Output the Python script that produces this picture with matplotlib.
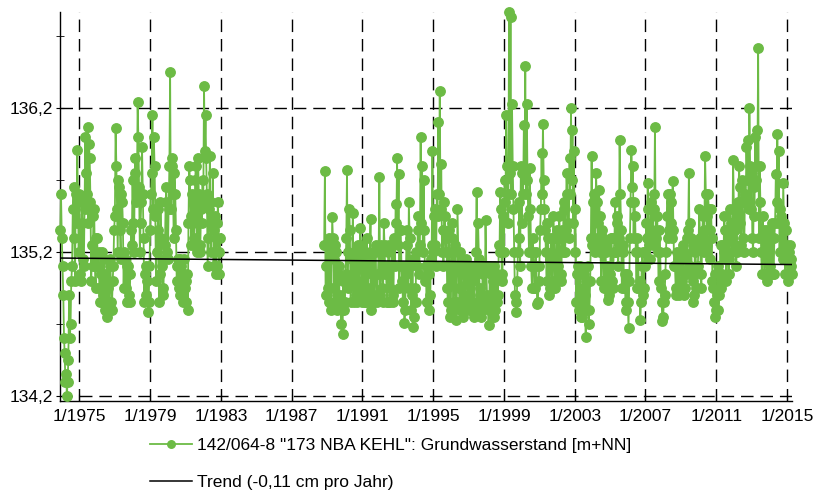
import numpy as np
import pandas as pd
import matplotlib
matplotlib.use('Agg')
from matplotlib import pyplot as plt
import matplotlib.dates as mdates
from matplotlib.ticker import FuncFormatter, FixedLocator

plt.rcParams['font.family'] = ['Liberation Sans', 'DejaVu Sans']

# groundwater levels [m+NN]
# two readings per month: *_early = start of month, *_mid = middle of month
start_1 = '1973-12'
level_1_mid = [135.60,
           135.10, 134.60, 134.30, 134.20, 134.45, 134.60, 135.00, 135.50, 135.30, 135.60, 135.91, 135.20,
           135.05, 135.40, 135.15, 135.50, 135.75, 136.07, 135.95, 135.55, 135.25, 135.45, 135.10, 135.30,
           135.10, 134.95, 135.05, 134.85, 135.15, 134.80, 134.75, 134.95, 135.10, 134.85, 135.00, 135.35,
           136.06, 135.50, 135.70, 135.35, 135.60, 135.40, 135.20, 134.95, 135.10, 134.90, 135.05, 135.25,
           135.40, 135.75, 135.55, 136.24, 135.65, 135.40, 135.93, 135.30, 135.05, 134.90, 134.78, 135.10,
           135.60, 136.15, 136.00, 135.45, 135.20, 135.50, 135.05, 135.30, 134.90, 135.15, 135.55, 135.20,
           135.50, 136.45, 135.85, 135.60, 135.75, 135.35, 135.10, 134.95, 135.15, 134.90, 135.05, 134.95,
           135.00, 134.80, 135.80, 135.45, 135.60, 135.25, 135.70, 135.40, 135.85, 135.20, 135.50, 135.70,
           136.35, 136.15, 135.60, 135.30, 135.87, 135.55, 135.75, 135.35, 135.05, 135.40, 135.20, 135.30]
level_1_early = [135.35,
           135.30, 134.90, 134.50, 134.35, 134.30, 134.90, 134.70, 135.10, 135.65, 135.00, 135.40, 135.55,
           135.60, 135.00, 135.55, 135.10, 136.00, 135.60, 135.40, 135.85, 135.00, 135.10, 135.50, 134.95,
           135.30, 135.20, 134.85, 135.20, 134.90, 135.05, 135.00, 134.80, 134.85, 135.15, 134.80, 135.10,
           135.45, 135.80, 135.20, 135.65, 135.15, 135.55, 134.95, 135.15, 134.85, 135.10, 134.85, 135.35,
           135.70, 135.20, 135.85, 135.60, 136.00, 135.20, 135.55, 135.60, 134.85, 135.10, 135.00, 134.85,
           135.35, 135.75, 135.50, 135.80, 135.00, 135.35, 134.85, 135.55, 135.10, 134.95, 135.25, 135.65,
           135.15, 135.80, 135.50, 135.80, 135.30, 135.60, 135.00, 135.15, 134.90, 135.10, 134.85, 135.15,
           134.85, 135.05, 135.40, 135.70, 135.25, 135.55, 135.30, 135.80, 135.20, 135.60, 135.25, 135.40,
           135.55, 135.90, 135.85, 135.10, 135.50, 135.20, 135.40, 135.10, 135.45, 135.10, 135.55, 135.05]

start_2 = '1988-11'
level_2_mid = [135.76, 135.10,
           134.95, 135.30, 134.80, 135.44, 135.15, 135.25, 134.90, 135.05, 134.85, 134.70, 134.63, 134.80,
           135.05, 135.77, 135.20, 135.35, 135.00, 135.47, 135.15, 134.90, 135.10, 134.95, 135.37, 135.00,
           135.15, 134.85, 135.20, 134.95, 135.10, 135.43, 135.05, 134.85, 135.20, 134.90, 135.05, 135.72,
           135.25, 134.95, 135.40, 135.05, 134.85, 135.20, 134.95, 135.10, 134.90, 135.30, 135.53, 135.85,
           135.74, 135.35, 135.10, 134.85, 134.71, 135.05, 135.25, 135.55, 135.10, 134.90, 134.68, 134.95,
           135.20, 135.35, 135.05, 136.00, 135.80, 135.70, 135.00, 134.85, 135.10, 134.80, 135.15, 135.90,
           135.45, 135.25, 135.60, 136.10, 136.32, 135.81, 135.35, 135.55, 135.20, 134.95, 135.35, 134.75,
           135.40, 134.80, 135.25, 134.73, 135.50, 134.95, 135.20, 134.80, 135.05, 134.85, 135.15, 134.90,
           135.05, 134.80, 135.00, 134.75, 135.10, 135.62, 135.40, 134.95, 134.75, 135.05, 134.85, 135.42,
           134.90, 134.69, 135.10, 134.80, 135.00, 134.75, 135.05, 134.85, 135.25, 135.62, 135.00, 135.45,
           135.70, 136.15, 135.60, 136.87, 136.83, 136.23, 135.50, 134.90, 134.78, 135.20, 135.55, 135.80,
           135.75, 136.08, 136.49, 136.23, 135.45, 135.78, 135.10, 135.30, 134.95, 135.20, 134.84, 135.00,
           135.35, 135.89, 136.09, 135.50, 135.20, 135.40, 134.90, 135.15, 135.00, 135.45, 134.95, 135.30,
           135.10, 135.45, 135.00, 135.35, 135.55, 135.20, 135.75, 135.40, 135.85, 136.20, 136.05, 135.90,
           135.50, 135.05, 134.85, 135.10, 134.75, 134.95, 135.05, 134.61, 134.80, 134.70, 135.00, 135.87,
           135.55, 135.30, 135.75, 135.40, 135.63, 135.20, 135.35, 135.00, 135.25, 134.95, 134.87, 135.10,
           135.30, 135.00, 135.20, 135.55, 135.45, 135.10, 135.98, 135.35, 135.20, 134.95, 134.80, 135.05,
           134.67, 135.30, 135.91, 135.80, 135.55, 135.20, 135.30, 134.95, 134.73, 135.10, 134.90, 135.20,
           135.40, 135.68, 135.25, 135.50, 135.35, 135.60, 136.07, 135.45, 135.20, 135.35, 134.95, 134.72,
           134.85, 135.05, 135.45, 135.30, 135.60, 135.40, 135.69, 135.10, 134.95, 135.20, 134.90, 135.15,
           135.00, 135.25, 134.90, 135.15, 135.30, 135.75, 135.40, 135.05, 134.85, 135.20, 134.95, 135.10,
           135.50, 135.05, 135.30, 135.20, 135.87, 135.45, 135.60, 135.35, 135.50, 135.00, 134.85, 134.75,
           134.90, 134.80, 135.05, 134.95, 135.25, 135.45, 135.15, 135.35, 135.05, 135.50, 135.20, 135.84,
           135.25, 135.10, 135.55, 135.80, 135.40, 135.70, 135.30, 135.60, 135.93, 135.98, 136.20, 135.50,
           135.30, 135.65, 136.00, 136.05, 136.62, 135.80, 135.20, 135.45, 135.05, 135.35, 135.00, 135.25,
           135.10, 135.40, 135.05, 135.30, 135.74, 136.02, 135.90, 135.50, 135.20, 135.68, 135.15, 135.35,
           135.05, 135.20, 135.10, 135.05]
level_2_early = [135.25, 134.90,
           135.25, 134.85, 135.20, 134.95, 135.30, 134.85, 135.20, 134.80, 135.10, 134.90, 134.80, 135.00,
           134.85, 135.30, 134.95, 135.50, 134.85, 135.15, 134.85, 135.20, 134.85, 135.25, 134.90, 135.25,
           134.85, 135.20, 134.85, 135.30, 134.90, 135.15, 134.80, 135.20, 134.85, 135.25, 134.85, 135.20,
           134.90, 135.20, 134.85, 135.25, 135.10, 134.85, 135.25, 134.85, 135.25, 134.85, 135.10, 135.40,
           135.25, 134.95, 135.35, 135.00, 135.10, 134.80, 135.35, 134.95, 135.30, 134.80, 135.15, 134.75,
           134.85, 135.10, 135.45, 135.25, 135.40, 135.20, 135.35, 135.10, 134.85, 135.05, 134.90, 135.25,
           135.20, 135.50, 135.10, 135.45, 135.60, 135.50, 135.20, 135.10, 135.45, 135.30, 134.85, 135.20,
           134.80, 135.30, 134.85, 135.10, 134.85, 135.20, 134.80, 135.10, 134.75, 135.10, 134.85, 135.10,
           134.80, 135.10, 134.85, 135.05, 134.80, 135.20, 134.85, 135.15, 134.90, 134.80, 135.10, 134.85,
           135.10, 134.85, 134.80, 135.05, 134.80, 135.10, 134.80, 135.05, 134.90, 135.20, 135.50, 135.05,
           135.20, 135.55, 135.80, 135.40, 135.75, 135.60, 135.80, 135.20, 134.85, 135.00, 135.30, 135.10,
           135.40, 135.60, 135.75, 135.60, 135.70, 135.20, 135.50, 134.95, 135.20, 134.95, 135.10, 134.85,
           135.10, 135.50, 135.60, 135.70, 135.35, 135.00, 135.30, 134.95, 135.30, 134.95, 135.30, 135.00,
           135.35, 135.05, 135.30, 135.05, 135.20, 135.50, 135.35, 135.60, 135.30, 135.60, 135.70, 135.40,
           135.20, 134.85, 135.10, 134.80, 135.05, 134.75, 134.80, 134.90, 135.00, 135.10, 134.80, 135.30,
           135.25, 135.60, 135.20, 135.55, 135.25, 135.45, 135.00, 135.30, 134.95, 135.20, 135.10, 134.90,
           135.05, 135.30, 134.95, 135.30, 135.20, 135.40, 135.30, 135.60, 134.95, 135.25, 135.05, 134.85,
           134.85, 135.00, 135.55, 135.65, 135.30, 135.45, 134.95, 135.20, 135.00, 134.85, 135.20, 134.95,
           135.10, 135.30, 135.50, 135.15, 135.55, 135.25, 135.50, 135.30, 135.45, 135.00, 135.20, 134.85,
           134.75, 134.90, 135.20, 135.60, 135.35, 135.55, 135.30, 135.35, 135.10, 134.90, 135.15, 134.95,
           135.20, 134.95, 135.20, 134.95, 135.05, 135.35, 135.10, 135.30, 135.00, 134.90, 135.25, 134.95,
           135.25, 135.30, 134.95, 135.45, 135.35, 135.60, 135.25, 135.50, 135.15, 135.30, 134.95, 135.05,
           134.80, 135.10, 134.90, 135.25, 135.05, 135.20, 135.35, 135.00, 135.30, 135.15, 135.40, 135.30,
           135.50, 135.35, 135.20, 135.45, 135.65, 135.25, 135.55, 135.20, 135.55, 135.70, 135.50, 135.80,
           135.75, 135.20, 135.45, 135.70, 135.80, 135.30, 135.55, 135.05, 135.35, 135.05, 135.30, 135.05,
           135.35, 135.05, 135.30, 135.05, 135.40, 135.55, 135.40, 135.20, 135.45, 135.15, 135.40, 135.05,
           135.25, 135.00, 135.25, 135.15]

trend_dates = ['1973-11-25', '2015-04-15']
trend_values = [135.158, 135.113]

tick_years = [1975, 1979, 1983, 1987, 1991, 1995, 1999, 2003, 2007, 2011, 2015]
y_major = [134.2, 135.2, 136.2]
y_minor = [134.7, 135.7, 136.7]

label_1 = '142/064-8 "173 NBA KEHL": Grundwasserstand [m+NN]'
label_2 = 'Trend (-0,11 cm pro Jahr)'

green = '#6cbb45'


def series(start, early, mid):
    months = pd.date_range(start, periods=len(mid), freq='MS')
    d = np.column_stack([months.values, (months + pd.Timedelta(days=15)).values]).ravel()
    v = np.column_stack([early, mid]).ravel()
    return pd.to_datetime(d), v


dates_1, vals_1 = series(start_1, level_1_early, level_1_mid)
dates_2, vals_2 = series(start_2, level_2_early, level_2_mid)

fig = plt.figure(figsize=(8.15, 5.01), dpi=100)
ax = fig.add_axes([60 / 815, 1 - 401 / 501, 732 / 815, 389 / 501])

ax.plot(dates_1, vals_1, color=green, lw=1.3, marker='o', ms=6.8, mec=green, mfc=green,
        label=label_1, zorder=3, clip_on=False)
ax.plot(dates_2, vals_2, color=green, lw=1.3, marker='o', ms=6.8, mec=green, mfc=green,
        zorder=3, clip_on=False)
ax.plot(pd.to_datetime(trend_dates), trend_values, color='black', lw=1.1, label=label_2, zorder=4)

ax.set_xlim(pd.Timestamp('1973-11-25'), pd.Timestamp('2015-04-15'))
ax.set_ylim(134.165, 136.867)

ticks = [mdates.date2num(pd.Timestamp(y, 1, 1)) for y in tick_years]
ax.xaxis.set_major_locator(FixedLocator(ticks))
ax.xaxis.set_major_formatter(FuncFormatter(lambda v, p: '%d/%d' % (mdates.num2date(v).month, mdates.num2date(v).year)))
ax.set_yticks(y_major)
ax.set_yticks(y_minor, minor=True)
ax.set_yticklabels([('%.1f' % v).replace('.', ',') for v in y_major])

ax.grid(True, which='major', color='black', lw=1.0, linestyle=(0, (9, 5)))
for s in ['top', 'right']:
    ax.spines[s].set_visible(False)
ax.spines['left'].set_linewidth(1.0)
ax.spines['bottom'].set_linewidth(1.0)
ax.tick_params(axis='x', direction='in', length=5, pad=6, labelsize=12.5)
ax.tick_params(axis='y', which='both', direction='inout', length=6, pad=2, labelsize=12.5)

fig.legend(loc='upper left', bbox_to_anchor=(150 / 815, 1 - 438 / 501), frameon=False,
           fontsize=12.5, handlelength=2.4, handletextpad=0.3, labelspacing=1.25,
           borderpad=0, borderaxespad=0, markerscale=0.8)

fig.savefig('out.png', dpi=100)
